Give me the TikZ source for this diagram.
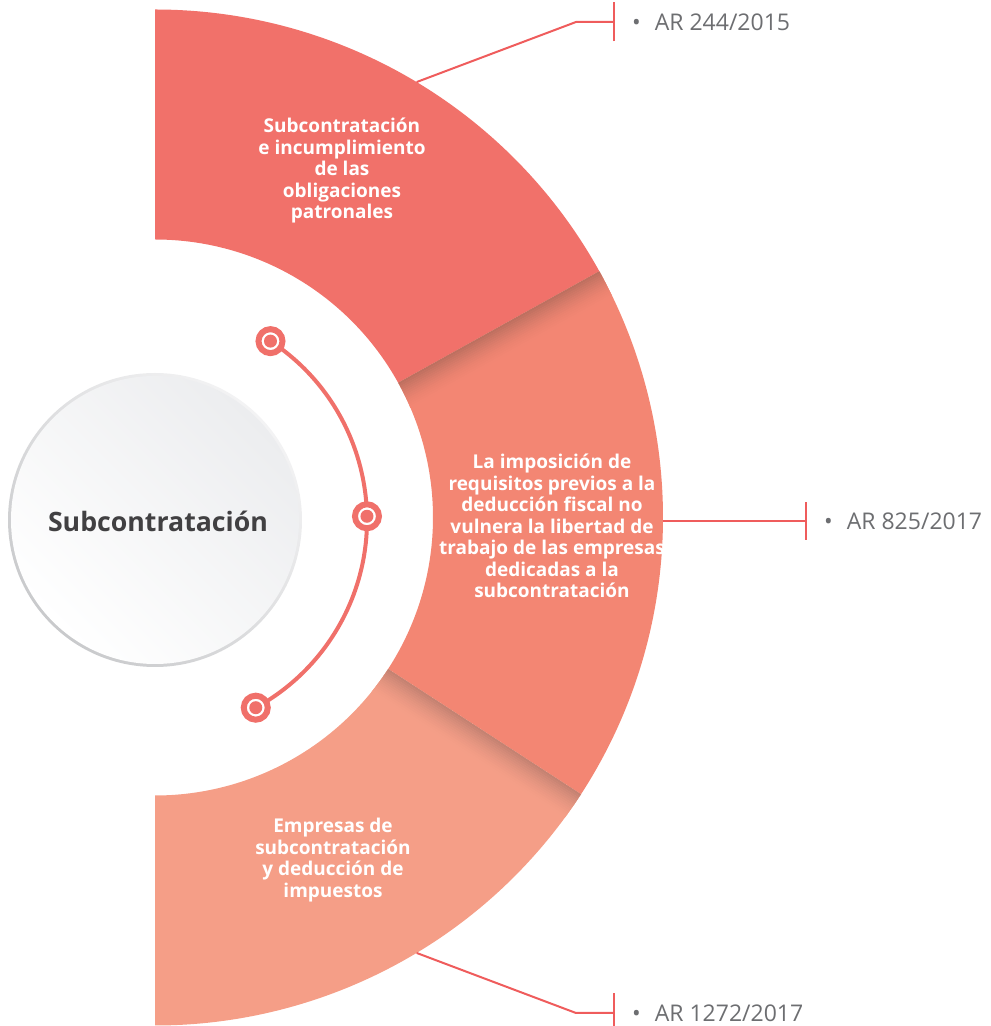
\documentclass[tikz,border=0pt]{standalone}
\usepackage{fontspec}
\setmainfont{Open Sans}
\usetikzlibrary{calc}
\definecolor{segA}{HTML}{F1716A}
\definecolor{segB}{HTML}{F38673}
\definecolor{segC}{HTML}{F59E87}
\definecolor{shadB}{HTML}{BD7060}
\definecolor{shadC}{HTML}{C48272}
\definecolor{leaderRed}{HTML}{EF5C5C}
\definecolor{arcRed}{HTML}{F0706A}
\definecolor{labelGrey}{HTML}{6D6E71}
\definecolor{hubText}{HTML}{414042}
\definecolor{ringDark}{HTML}{C9CACC}
\definecolor{ringLight}{HTML}{F3F3F4}
\definecolor{hubFill}{HTML}{ECEDEF}
\begin{document}
\begin{tikzpicture}[x=1pt,y=1pt,
  segtext/.style={text=white, font=\bfseries\fontsize{19}{21.5}\selectfont, align=center, inner sep=0pt},
  reflabel/.style={text=labelGrey, font=\fontsize{23}{26}\selectfont, anchor=west, inner sep=0pt},
  leader/.style={draw=leaderRed, line width=2pt},
  arcline/.style={draw=arcRed, line width=4pt},
  marker/.style={circle, draw=arcRed, line width=6pt, fill=white, minimum size=24pt, inner sep=0pt,
    path picture={\fill[arcRed] (path picture bounding box.center) circle[radius=6.5pt];}},
  hubtext/.style={text=hubText, font=\bfseries\fontsize{26.7}{30}\selectfont, inner sep=0pt}]
\useasboundingbox (0,0) rectangle (991,1026);
\coordinate (O) at (155,508.5);
\def\Ro{508}
\def\Ri{278}
% segments
\fill[segA] ($(O)+(90:\Ro)$) arc[start angle=90,end angle=29,radius=\Ro] -- ($(O)+(29:\Ri)$) arc[start angle=29,end angle=90,radius=\Ri] -- cycle;
\fill[segB] ($(O)+(29:\Ro)$) arc[start angle=29,end angle=-33,radius=\Ro] -- ($(O)+(-33:\Ri)$) arc[start angle=-33,end angle=29,radius=\Ri] -- cycle;
\fill[segC] ($(O)+(-33:\Ro)$) arc[start angle=-33,end angle=-90,radius=\Ro] -- ($(O)+(-90:\Ri)$) arc[start angle=-90,end angle=-33,radius=\Ri] -- cycle;
% shadows
\begin{scope}
  \clip ($(O)+(29:\Ro)$) arc[start angle=29,end angle=-33,radius=\Ro] -- ($(O)+(-33:\Ri)$) arc[start angle=-33,end angle=29,radius=\Ri] -- cycle;
  \begin{scope}[shift={(O)}, rotate=29]
    \foreach \i in {0,...,13} {
      \pgfmathsetmacro{\pc}{100*(1-\i/14)^1.6}
      \fill[shadB!\pc!segB] (0,{-2*\i-2.2}) rectangle (540,{-2*\i});
    }
  \end{scope}
\end{scope}
\begin{scope}
  \clip ($(O)+(-33:\Ro)$) arc[start angle=-33,end angle=-90,radius=\Ro] -- ($(O)+(-90:\Ri)$) arc[start angle=-90,end angle=-33,radius=\Ri] -- cycle;
  \begin{scope}[shift={(O)}, rotate=-33]
    \foreach \i in {0,...,13} {
      \pgfmathsetmacro{\pc}{100*(1-\i/14)^1.6}
      \fill[shadC!\pc!segC] (0,{-2*\i-2.2}) rectangle (540,{-2*\i});
    }
  \end{scope}
\end{scope}
% segment texts
\node[segtext] (s1) at (342,855) {Subcontratación\\e incumplimiento\\de las\\obligaciones\\patronales};
\node[segtext] (s2) at (552,500) {La imposición de\\requisitos previos a la\\deducción fiscal no\\vulnera la libertad de\\trabajo de las empresas\\dedicadas a la\\subcontratación};
\node[segtext] (s3) at (333,166) {Empresas de\\subcontratación\\y deducción de\\impuestos};
% hub circle
\shade[top color=ringLight, bottom color=ringDark, shading angle=-45] (155,506) circle[radius=147];
\shade[top color=hubFill, bottom color=white, shading angle=-45] (155,506) circle[radius=144];
\node[hubtext] (hub) at (158,505) {Subcontratación};
% arc with markers
\coordinate (A) at (153,506);
\coordinate (p1) at ($(A)+(56.7:214)$);
\coordinate (p2) at ($(A)+(1:214)$);
\coordinate (p3) at ($(A)+(-61.3:214)$);
\draw[arcline] (p1) arc[start angle=56.7,end angle=-61.3,radius=214];
\node[marker] (m1) at (p1) {};
\node[marker] (m2) at (p2) {};
\node[marker] (m3) at (p3) {};
% leaders
\coordinate (c1) at ($(O)+(59:\Ro)$);
\coordinate (k1) at (576,1004);
\coordinate (b1) at (614,1004);
\draw[leader] (c1) -- (k1) -- (b1);
\draw[leader] ($(b1)+(0,-19.5)$) -- ($(b1)+(0,19.5)$);
\node[reflabel] (r1) at (632,1004) {\textbullet\hspace{14pt}AR 244/2015};
\coordinate (c2) at (663,505);
\coordinate (b2) at (806,505);
\draw[leader] (c2) -- (b2);
\draw[leader] ($(b2)+(0,-19)$) -- ($(b2)+(0,19)$);
\node[reflabel] (r2) at (824,505) {\textbullet\hspace{14pt}AR 825/2017};
\coordinate (c3) at ($(O)+(-59:\Ro)$);
\coordinate (k3) at (576,13);
\coordinate (b3) at (614,13);
\draw[leader] (c3) -- (k3) -- (b3);
\draw[leader] ($(b3)+(0,-19.5)$) -- ($(b3)+(0,19.5)$);
\node[reflabel] (r3) at (632,13) {\textbullet\hspace{14pt}AR 1272/2017};
\end{tikzpicture}
\end{document}
